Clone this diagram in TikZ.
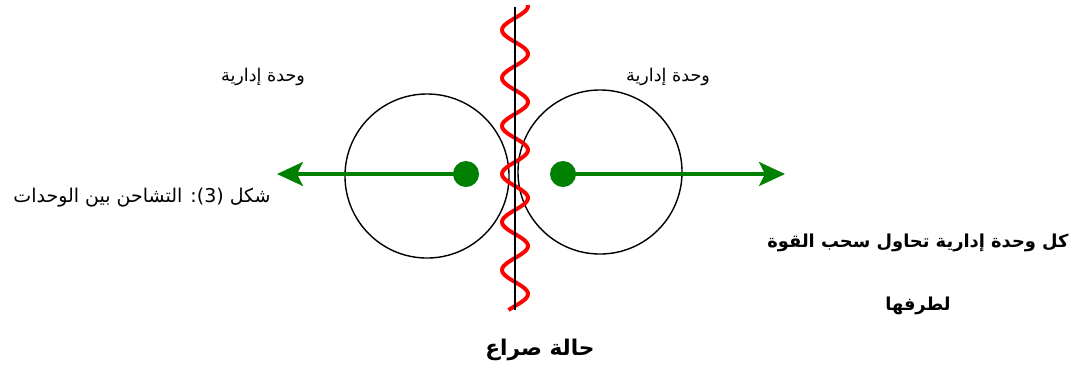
\documentclass[tikz,border=0pt]{standalone}
\usepackage{fontspec}
\usepackage{tikz}
\usetikzlibrary{arrows.meta,positioning,calc}
\newfontfamily\arabicfont[Script=Arabic]{DejaVu Sans}
\TeXXeTstate=1
\definecolor{PullGreen}{RGB}{0,128,0}
\definecolor{ClashRed}{RGB}{255,0,0}

\begin{document}
\begin{tikzpicture}[x=0.025cm,y=-0.025cm, font=\arabicfont\fontsize{12.5}{15}\selectfont, every node/.style={align=center}]
        \useasboundingbox (0,0) rectangle (1080,371);
        \tikzset{unit/.style={draw,circle,line width=1pt,minimum size=4.1cm,inner sep=0pt},
          centre/.style={circle,fill=PullGreen,minimum size=0.65cm,inner sep=0pt},
          pull/.style={-{Stealth[length=6.5mm,width=6mm,inset=1.5mm]},line width=2.2pt,PullGreen},
          boldnote/.style={font=\arabicfont\bfseries\fontsize{12.7}{15}\selectfont}}

        \node[unit] (uleft) at (427,176) {};
        \node[unit] (uright) at (600,172) {};

        % the clash line
        \draw[ClashRed,line width=2.8pt] plot[domain=5:310,samples=160,smooth]
          ({515-13*cos(7.5*(\x-30))},\x);
        \coordinate (ltop) at (515,7);
        \coordinate (lbot) at (515,310);
        \draw[line width=2.1pt] (ltop) -- (lbot);

        \node[centre] (dleft) at (466,174) {};
        \node[centre] (dright) at (563,174) {};
        \coordinate (aleft) at (277,174);
        \coordinate (aright) at (785,174);
        \draw[pull] (dleft.center) -- (aleft);
        \draw[pull] (dright.center) -- (aright);

        \node (nleft) at (263,77) {\beginR وحدة إدارية\endR};
        \node (nright) at (668,77) {\beginR وحدة إدارية\endR};
        \node[font=\arabicfont\fontsize{13.5}{16}\selectfont] (caption) at (142,198) {\beginR شكل (3): التشاحن بين الوحدات\endR};
        \node[boldnote] (pull1) at (918,243) {\beginR كل وحدة إدارية تحاول سحب القوة\endR};
        \node[boldnote] (pull2) at (918,306) {\beginR لطرفها\endR};
        \node[font=\arabicfont\bfseries\fontsize{15.4}{18}\selectfont] (title) at (540,350) {\beginR حالة صراع\endR};
      \end{tikzpicture}
\end{document}
